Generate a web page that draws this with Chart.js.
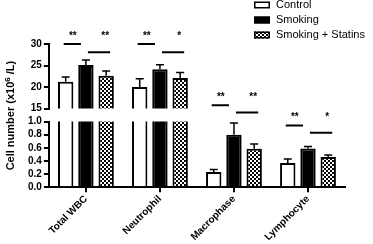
<!doctype html>
<html lang="en">
<head>
  <meta charset="utf-8">
  <title>Cell number</title>
  <script src="https://cdn.jsdelivr.net/npm/chart.js@4.4.0/dist/chart.umd.min.js"></script>
  <style>
    html, body { margin: 0; padding: 0; background: #fff; }
    #wrap { position: relative; width: 373px; height: 244px; }
  </style>
</head>
<body>
  <div id="wrap"><canvas id="myChart"></canvas></div>
  <script>
    const categories = ['Total WBC', 'Neutrophil', 'Macrophase', 'Lymphocyte'];
    const seriesNames = ['Control', 'Smoking', 'Smoking + Statins'];
    const control = [21.2, 20.0, 0.23, 0.37];
    const smoking = [25.1, 24.1, 0.80, 0.59];
    const statins = [22.6, 22.1, 0.585, 0.46];
    const controlSem = [1.1, 1.9, 0.04, 0.06];
    const smokingSem = [1.2, 1.1, 0.18, 0.03];
    const statinsSem = [1.1, 1.3, 0.075, 0.03];
    const topRange = [15, 30, 5];     // min, max, step of the upper panel
    const bottomRange = [0, 1, 0.2];  // min, max, step of the lower panel
    // significance: control vs smoking, smoking vs statins
    const sigMarks = [['**', '**'], ['**', '*'], ['**', '**'], ['**', '*']];
    const sigLevel1 = [30.0, 30.0, 1.25, 0.94];
    const sigLevel2 = [28.1, 28.1, 1.14, 0.83];
    const sigAxis = ['yTop', 'yTop', 'yBot', 'yBot'];

    const canvas = document.getElementById('myChart');
    const ctx = canvas.getContext('2d');

    // checkered fill for the statins bars
    const tile = document.createElement('canvas');
    tile.width = 4; tile.height = 4;
    const tctx = tile.getContext('2d');
    tctx.fillStyle = '#fff'; tctx.fillRect(0, 0, 4, 4);
    tctx.fillStyle = '#000'; tctx.fillRect(0, 0, 2, 2); tctx.fillRect(2, 2, 2, 2);
    const checker = ctx.createPattern(tile, 'repeat');

    const series = [control, smoking, statins];
    const sems = [controlSem, smokingSem, statinsSem];
    const fills = ['#fff', '#000', checker];

    const datasets = [];
    ['yTop', 'yBot'].forEach(axis => {
      series.forEach((vals, i) => {
        datasets.push({
          label: seriesNames[i],
          data: vals,
          sem: sems[i],
          yAxisID: axis,
          stack: 's' + i,
          backgroundColor: fills[i],
          borderColor: '#000',
          borderWidth: 2,
          clip: 0,
          categoryPercentage: 0.82,
          barPercentage: 0.76
        });
      });
    });

    const tickFont = { family: 'Liberation Sans, Arial, sans-serif', size: 10, weight: 'bold' };
    const axisGrid = { drawOnChartArea: false, color: '#000', lineWidth: 2, tickLength: 5 };
    const axisBorder = { color: '#000', width: 2 };

    const extras = {
      id: 'extras',
      afterDatasetsDraw(chart) {
        const c = chart.ctx;
        c.save();
        c.strokeStyle = '#000';
        c.fillStyle = '#000';
        c.lineWidth = 1.5;
        // error bars (upper whisker only)
        chart.data.datasets.forEach((ds, i) => {
          const meta = chart.getDatasetMeta(i);
          const y = chart.scales[ds.yAxisID];
          meta.data.forEach((bar, j) => {
            const v = ds.data[j];
            if (v < y.min || v > y.max) return;
            const top = y.getPixelForValue(v + ds.sem[j]);
            c.beginPath();
            c.moveTo(bar.x, bar.y);
            c.lineTo(bar.x, top);
            c.moveTo(bar.x - 4, top);
            c.lineTo(bar.x + 4, top);
            c.stroke();
          });
        });
        // significance lines
        c.lineWidth = 2;
        c.font = 'bold 10px Liberation Sans, Arial, sans-serif';
        c.textAlign = 'center';
        c.textBaseline = 'middle';
        categories.forEach((cat, j) => {
          const x0 = chart.getDatasetMeta(0).data[j].x;
          const x1 = chart.getDatasetMeta(1).data[j].x;
          const x2 = chart.getDatasetMeta(2).data[j].x;
          const y = chart.scales[sigAxis[j]];
          const y1 = y.getPixelForValue(sigLevel1[j]);
          const y2 = y.getPixelForValue(sigLevel2[j]);
          c.beginPath();
          c.moveTo(x0 - 2, y1); c.lineTo(x1 - 5, y1);
          c.moveTo(x1 + 2, y2); c.lineTo(x2 + 4, y2);
          c.stroke();
          c.fillText(sigMarks[j][0], (x0 + x1) / 2 - 3, y1 - 8);
          c.fillText(sigMarks[j][1], x2 - 1, y1 - 8);
        });
        // legend
        c.font = '11px Liberation Sans, Arial, sans-serif';
        c.textAlign = 'left';
        c.lineWidth = 1.5;
        seriesNames.forEach((name, i) => {
          const cy = 5 + i * 15;
          c.fillStyle = fills[i];
          c.fillRect(254, cy - 3.5, 16, 7);
          c.strokeRect(254.75, cy - 2.75, 14.5, 5.5);
          c.fillStyle = '#000';
          c.fillText(name, 276, cy);
        });
        // y axis title with superscript
        const mid = (chart.chartArea.top + chart.chartArea.bottom) / 2;
        const partA = 'Cell number (x10';
        const partB = ' /L)';
        const big = 'bold 11px Liberation Sans, Arial, sans-serif';
        const small = 'bold 8px Liberation Sans, Arial, sans-serif';
        c.font = big;
        const wA = c.measureText(partA).width;
        const wB = c.measureText(partB).width;
        c.font = small;
        const wS = c.measureText('6').width;
        const total = wA + wS + wB;
        c.translate(10, mid);
        c.rotate(-Math.PI / 2);
        c.textBaseline = 'alphabetic';
        let x = -total / 2;
        c.font = big;
        c.fillText(partA, x, 4);
        x += wA;
        c.font = small;
        c.fillText('6', x, 0);
        x += wS;
        c.font = big;
        c.fillText(partB, x, 4);
        c.restore();
      }
    };

    new Chart(ctx, {
      type: 'bar',
      data: { labels: categories, datasets: datasets },
      options: {
        responsive: true,
        maintainAspectRatio: false,
        animation: false,
        layout: { padding: { top: 44, right: 28, left: 26, bottom: 0 } },
        plugins: { legend: { display: false }, tooltip: { enabled: false } },
        scales: {
          x: {
            grid: Object.assign({ offset: false }, axisGrid),
            border: axisBorder,
            ticks: { color: '#000', font: tickFont, maxRotation: 45, minRotation: 45, padding: 1 }
          },
          yBot: {
            type: 'linear', position: 'left', stack: 'v', stackWeight: 65, weight: 1,
            min: bottomRange[0], max: bottomRange[1],
            grid: axisGrid, border: axisBorder,
            ticks: { stepSize: bottomRange[2], autoSkip: false, color: '#000', font: tickFont, padding: 2,
              callback: v => v.toFixed(1) }
          },
          yGap: {
            type: 'linear', position: 'left', stack: 'v', stackWeight: 13, weight: 2,
            min: 0, max: 1, display: false
          },
          yTop: {
            type: 'linear', position: 'left', stack: 'v', stackWeight: 64, weight: 3,
            min: topRange[0], max: topRange[1],
            grid: axisGrid, border: axisBorder,
            ticks: { stepSize: topRange[2], autoSkip: false, color: '#000', font: tickFont, padding: 2 }
          }
        }
      },
      plugins: [extras]
    });
  </script>
</body>
</html>
